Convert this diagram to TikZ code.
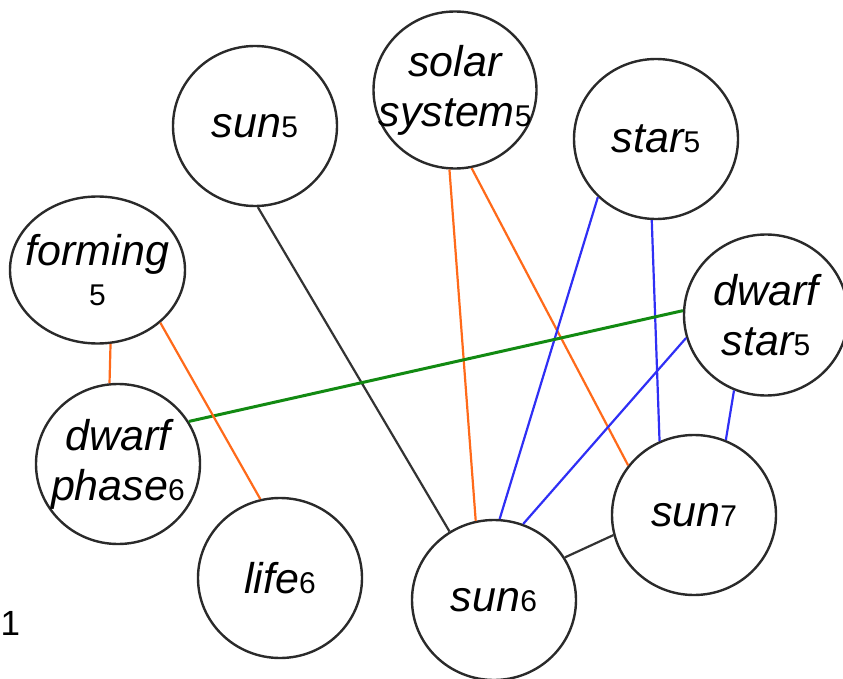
\documentclass[tikz,border=0pt]{standalone}
\usepackage{fontspec}
\setmainfont{Liberation Sans}
\usetikzlibrary{shapes.geometric}

\definecolor{edgeorange}{HTML}{FF6A1A}
\definecolor{edgeblue}{HTML}{2F2FF5}
\definecolor{edgegreen}{HTML}{128A12}
\definecolor{edgeblack}{HTML}{333333}
\definecolor{rim}{HTML}{2A2A2A}

% small upright index after a word
\newcommand\ix[1]{{\fontsize{30}{30}\selectfont\upshape #1}}

\tikzset{
  vtx/.style={ellipse, draw=rim, line width=2.4pt, fill=none, inner sep=0pt,
              minimum width=164pt, minimum height=160pt},
  lbl/.style={font=\fontsize{43}{50}\selectfont\itshape, align=center, inner sep=0pt, text=black},
  eorange/.style={draw=edgeorange, line width=2.2pt},
  eblue/.style={draw=edgeblue, line width=2.2pt},
  egreen/.style={draw=edgegreen, line width=3pt},
  eblack/.style={draw=edgeblack, line width=2.2pt},
}

\begin{document}
\begin{tikzpicture}[x=1pt, y=-1pt]
\useasboundingbox (0,0) rectangle (843,679);

% vertices
\node[vtx] (sunA)    at (255,126) {};
\node[vtx, minimum width=163pt, minimum height=157pt] (solar) at (455,90) {};
\node[vtx] (star)    at (656,139) {};
\node[vtx, minimum width=175pt, minimum height=147pt] (forming) at (97.5,270) {};
\node[vtx, minimum height=161pt] (dstar) at (766,315) {};
\node[vtx] (dphase)  at (118,464) {};
\node[vtx] (life)    at (280,578) {};
\node[vtx] (sunB)    at (494,600) {};
\node[vtx] (sunC)    at (694,515) {};

% vertex texts
\node[lbl] (tsunA)   at (sunA)    {sun\ix{5}};
\node[lbl] (tsolar)  at (solar)   {solar\\system\ix{5}};
\node[lbl] (tstar)   at (star)    {star\ix{5}};
\node[lbl] (tform)   at (forming) {forming\\[-10pt]\ix{5}};
\node[lbl] (tdstar)  at (dstar)   {dwarf\\star\ix{5}};
\node[lbl] (tdphase) at (dphase)  {dwarf\\phase\ix{6}};
\node[lbl] (tlife)   at (life)    {life\ix{6}};
\node[lbl] (tsunB)   at (sunB)    {sun\ix{6}};
\node[lbl] (tsunC)   at (sunC)    {sun\ix{7}};

% page number at the left edge
\node[font=\fontsize{35}{35}\selectfont, anchor=base west, inner sep=0pt] (pnum) at (0.5,635) {1};

% edges
\draw[eblack]  (sunA.272)    -- (sunB.123);
\draw[eorange] (solar.266)   -- (sunB.103);
\draw[eorange] (solar.282)   -- (sunC.143);
\draw[eblue]   (star.225.5)  -- (sunB.86);
\draw[eblue]   (star.267)    -- (sunC.115);
\draw[eblue]   (dstar.196)   -- (sunB.69);
\draw[eblue]   (dstar.247.5) -- (sunC.67.5);
\draw[egreen]  (dphase.31)   -- (dstar.177);
\draw[eorange] (forming.280) -- (dphase.96);
\draw[eorange] (forming.320.6) -- (life.104);
\draw[eblack]  (sunB.31)     -- (sunC.194);
\end{tikzpicture}
\end{document}
